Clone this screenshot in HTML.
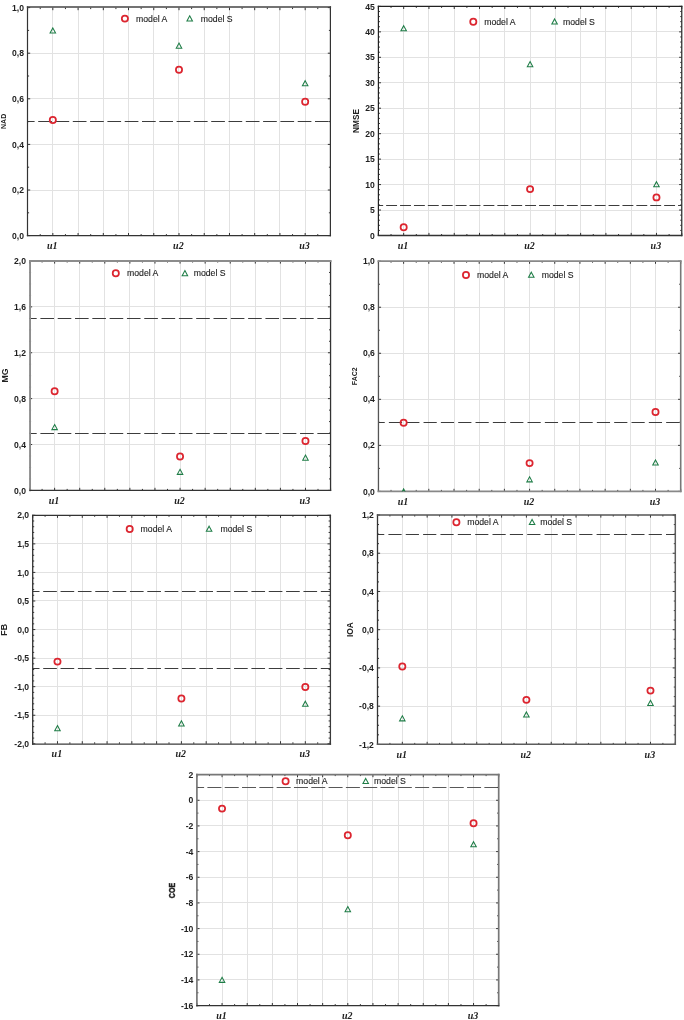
<!DOCTYPE html>
<html><head><meta charset="utf-8"><title>Model comparison charts</title>
<style>
html,body{margin:0;padding:0;background:#fff;}
body{width:684px;height:1020px;overflow:hidden;}
svg{display:block;will-change:transform;}
text{font-family:"Liberation Sans",sans-serif;}
.tl{font-size:8.6px;font-weight:bold;fill:#222;}
.lg{font-size:8.7px;fill:#222;stroke:#222;stroke-width:0.12px;}
.yl{font-weight:bold;fill:#222;}
.xl{font-family:"Liberation Serif",serif;font-style:italic;font-weight:bold;font-size:10.0px;fill:#222;}
</style></head>
<body>
<svg width="684" height="1020" viewBox="0 0 684 1020">
<rect width="684" height="1020" fill="#fff"/>
<g id="cNAD"><clipPath id="cpNAD"><rect x="27.60" y="7.60" width="302.80" height="228.00"/></clipPath>
<line x1="52.50" y1="7.60" x2="52.50" y2="235.60" stroke="#e2e2e2" stroke-width="1"/>
<line x1="78.50" y1="7.60" x2="78.50" y2="235.60" stroke="#e2e2e2" stroke-width="1"/>
<line x1="103.50" y1="7.60" x2="103.50" y2="235.60" stroke="#e2e2e2" stroke-width="1"/>
<line x1="128.50" y1="7.60" x2="128.50" y2="235.60" stroke="#e2e2e2" stroke-width="1"/>
<line x1="153.50" y1="7.60" x2="153.50" y2="235.60" stroke="#e2e2e2" stroke-width="1"/>
<line x1="178.50" y1="7.60" x2="178.50" y2="235.60" stroke="#e2e2e2" stroke-width="1"/>
<line x1="204.50" y1="7.60" x2="204.50" y2="235.60" stroke="#e2e2e2" stroke-width="1"/>
<line x1="229.50" y1="7.60" x2="229.50" y2="235.60" stroke="#e2e2e2" stroke-width="1"/>
<line x1="254.50" y1="7.60" x2="254.50" y2="235.60" stroke="#e2e2e2" stroke-width="1"/>
<line x1="279.50" y1="7.60" x2="279.50" y2="235.60" stroke="#e2e2e2" stroke-width="1"/>
<line x1="305.50" y1="7.60" x2="305.50" y2="235.60" stroke="#e2e2e2" stroke-width="1"/>
<line x1="27.60" y1="190.50" x2="330.40" y2="190.50" stroke="#e2e2e2" stroke-width="1"/>
<line x1="27.60" y1="144.50" x2="330.40" y2="144.50" stroke="#e2e2e2" stroke-width="1"/>
<line x1="27.60" y1="98.50" x2="330.40" y2="98.50" stroke="#e2e2e2" stroke-width="1"/>
<line x1="27.60" y1="53.50" x2="330.40" y2="53.50" stroke="#e2e2e2" stroke-width="1"/>
<line x1="27.60" y1="121.50" x2="330.40" y2="121.50" stroke="#3c3c3c" stroke-width="1.2" stroke-dasharray="13.7 3.6" stroke-dashoffset="6.70"/>
<path d="M27.60,235.60h2.6M330.40,235.60h-2.6M27.60,212.80h1.5M330.40,212.80h-1.5M27.60,190.00h2.6M330.40,190.00h-2.6M27.60,167.20h1.5M330.40,167.20h-1.5M27.60,144.40h2.6M330.40,144.40h-2.6M27.60,121.60h1.5M330.40,121.60h-1.5M27.60,98.80h2.6M330.40,98.80h-2.6M27.60,76.00h1.5M330.40,76.00h-1.5M27.60,53.20h2.6M330.40,53.20h-2.6M27.60,30.40h1.5M330.40,30.40h-1.5M27.60,7.60h2.6M330.40,7.60h-2.6M27.60,235.60v-2.6M27.60,7.60v2.6M40.22,235.60v-1.5M40.22,7.60v1.5M52.83,235.60v-2.6M52.83,7.60v2.6M65.45,235.60v-1.5M65.45,7.60v1.5M78.07,235.60v-2.6M78.07,7.60v2.6M90.68,235.60v-1.5M90.68,7.60v1.5M103.30,235.60v-2.6M103.30,7.60v2.6M115.92,235.60v-1.5M115.92,7.60v1.5M128.53,235.60v-2.6M128.53,7.60v2.6M141.15,235.60v-1.5M141.15,7.60v1.5M153.77,235.60v-2.6M153.77,7.60v2.6M166.38,235.60v-1.5M166.38,7.60v1.5M179.00,235.60v-2.6M179.00,7.60v2.6M191.62,235.60v-1.5M191.62,7.60v1.5M204.23,235.60v-2.6M204.23,7.60v2.6M216.85,235.60v-1.5M216.85,7.60v1.5M229.47,235.60v-2.6M229.47,7.60v2.6M242.08,235.60v-1.5M242.08,7.60v1.5M254.70,235.60v-2.6M254.70,7.60v2.6M267.32,235.60v-1.5M267.32,7.60v1.5M279.93,235.60v-2.6M279.93,7.60v2.6M292.55,235.60v-1.5M292.55,7.60v1.5M305.17,235.60v-2.6M305.17,7.60v2.6M317.78,235.60v-1.5M317.78,7.60v1.5M330.40,235.60v-2.6M330.40,7.60v2.6" stroke="#333" stroke-width="1" fill="none"/>
<line x1="27.50" y1="6.95" x2="27.50" y2="235.60" stroke="#333333" stroke-width="1.2" stroke-linecap="square"/>
<line x1="330.40" y1="6.95" x2="330.40" y2="235.60" stroke="#333333" stroke-width="1.2" stroke-linecap="square"/>
<line x1="27.50" y1="6.95" x2="330.40" y2="6.95" stroke="#444" stroke-width="1.4" stroke-linecap="square"/>
<line x1="27.50" y1="235.60" x2="330.40" y2="235.60" stroke="#333333" stroke-width="1.3" stroke-linecap="square"/>
<g clip-path="url(#cpNAD)"><path d="M52.83,27.95 L55.58,33.05 L50.08,33.05 Z" fill="none" stroke="#1f7d47" stroke-width="1.05" stroke-linejoin="miter"/><circle cx="52.83" cy="119.95" r="3.1" fill="none" stroke="#dc2630" stroke-width="1.75"/><path d="M179.00,43.05 L181.75,48.15 L176.25,48.15 Z" fill="none" stroke="#1f7d47" stroke-width="1.05" stroke-linejoin="miter"/><circle cx="179.00" cy="69.65" r="3.1" fill="none" stroke="#dc2630" stroke-width="1.75"/><path d="M305.17,80.70 L307.92,85.80 L302.42,85.80 Z" fill="none" stroke="#1f7d47" stroke-width="1.05" stroke-linejoin="miter"/><circle cx="305.17" cy="101.75" r="3.1" fill="none" stroke="#dc2630" stroke-width="1.75"/></g>
<circle cx="124.90" cy="18.60" r="3.1" fill="none" stroke="#dc2630" stroke-width="1.75"/>
<path d="M189.70,15.85 L192.45,20.95 L186.95,20.95 Z" fill="none" stroke="#1f7d47" stroke-width="1.05" stroke-linejoin="miter"/>
<text x="136.00" y="21.75" class="lg">model A</text>
<text x="200.80" y="21.75" class="lg">model S</text>
<text x="24.00" y="238.70" class="tl" text-anchor="end">0,0</text>
<text x="24.00" y="193.10" class="tl" text-anchor="end">0,2</text>
<text x="24.00" y="147.50" class="tl" text-anchor="end">0,4</text>
<text x="24.00" y="101.90" class="tl" text-anchor="end">0,6</text>
<text x="24.00" y="56.30" class="tl" text-anchor="end">0,8</text>
<text x="24.00" y="10.70" class="tl" text-anchor="end">1,0</text>
<text x="52.23" y="249.10" class="xl" text-anchor="middle">u1</text>
<text x="178.40" y="249.10" class="xl" text-anchor="middle">u2</text>
<text x="304.57" y="249.10" class="xl" text-anchor="middle">u3</text>
<text transform="translate(6.17,121.40) rotate(-90) scale(1,1.0)" text-anchor="middle" class="yl" style="font-size:7.0px;stroke:#222;stroke-width:0px">NAD</text></g>
<g id="cNMSE"><clipPath id="cpNMSE"><rect x="378.40" y="6.40" width="303.35" height="229.10"/></clipPath>
<line x1="403.50" y1="6.40" x2="403.50" y2="235.50" stroke="#e2e2e2" stroke-width="1"/>
<line x1="428.50" y1="6.40" x2="428.50" y2="235.50" stroke="#e2e2e2" stroke-width="1"/>
<line x1="454.50" y1="6.40" x2="454.50" y2="235.50" stroke="#e2e2e2" stroke-width="1"/>
<line x1="479.50" y1="6.40" x2="479.50" y2="235.50" stroke="#e2e2e2" stroke-width="1"/>
<line x1="504.50" y1="6.40" x2="504.50" y2="235.50" stroke="#e2e2e2" stroke-width="1"/>
<line x1="530.50" y1="6.40" x2="530.50" y2="235.50" stroke="#e2e2e2" stroke-width="1"/>
<line x1="555.50" y1="6.40" x2="555.50" y2="235.50" stroke="#e2e2e2" stroke-width="1"/>
<line x1="580.50" y1="6.40" x2="580.50" y2="235.50" stroke="#e2e2e2" stroke-width="1"/>
<line x1="605.50" y1="6.40" x2="605.50" y2="235.50" stroke="#e2e2e2" stroke-width="1"/>
<line x1="631.50" y1="6.40" x2="631.50" y2="235.50" stroke="#e2e2e2" stroke-width="1"/>
<line x1="656.50" y1="6.40" x2="656.50" y2="235.50" stroke="#e2e2e2" stroke-width="1"/>
<line x1="378.40" y1="210.50" x2="681.75" y2="210.50" stroke="#e2e2e2" stroke-width="1"/>
<line x1="378.40" y1="184.50" x2="681.75" y2="184.50" stroke="#e2e2e2" stroke-width="1"/>
<line x1="378.40" y1="159.50" x2="681.75" y2="159.50" stroke="#e2e2e2" stroke-width="1"/>
<line x1="378.40" y1="133.50" x2="681.75" y2="133.50" stroke="#e2e2e2" stroke-width="1"/>
<line x1="378.40" y1="108.50" x2="681.75" y2="108.50" stroke="#e2e2e2" stroke-width="1"/>
<line x1="378.40" y1="82.50" x2="681.75" y2="82.50" stroke="#e2e2e2" stroke-width="1"/>
<line x1="378.40" y1="57.50" x2="681.75" y2="57.50" stroke="#e2e2e2" stroke-width="1"/>
<line x1="378.40" y1="31.50" x2="681.75" y2="31.50" stroke="#e2e2e2" stroke-width="1"/>
<line x1="378.40" y1="205.50" x2="681.75" y2="205.50" stroke="#3c3c3c" stroke-width="1.2" stroke-dasharray="10.9 3.0" stroke-dashoffset="6.15"/>
<path d="M378.40,235.50h2.6M681.75,235.50h-2.6M378.40,230.41h1.5M681.75,230.41h-1.5M378.40,225.32h1.5M681.75,225.32h-1.5M378.40,220.23h1.5M681.75,220.23h-1.5M378.40,215.14h1.5M681.75,215.14h-1.5M378.40,210.04h2.6M681.75,210.04h-2.6M378.40,204.95h1.5M681.75,204.95h-1.5M378.40,199.86h1.5M681.75,199.86h-1.5M378.40,194.77h1.5M681.75,194.77h-1.5M378.40,189.68h1.5M681.75,189.68h-1.5M378.40,184.59h2.6M681.75,184.59h-2.6M378.40,179.50h1.5M681.75,179.50h-1.5M378.40,174.41h1.5M681.75,174.41h-1.5M378.40,169.32h1.5M681.75,169.32h-1.5M378.40,164.22h1.5M681.75,164.22h-1.5M378.40,159.13h2.6M681.75,159.13h-2.6M378.40,154.04h1.5M681.75,154.04h-1.5M378.40,148.95h1.5M681.75,148.95h-1.5M378.40,143.86h1.5M681.75,143.86h-1.5M378.40,138.77h1.5M681.75,138.77h-1.5M378.40,133.68h2.6M681.75,133.68h-2.6M378.40,128.59h1.5M681.75,128.59h-1.5M378.40,123.50h1.5M681.75,123.50h-1.5M378.40,118.40h1.5M681.75,118.40h-1.5M378.40,113.31h1.5M681.75,113.31h-1.5M378.40,108.22h2.6M681.75,108.22h-2.6M378.40,103.13h1.5M681.75,103.13h-1.5M378.40,98.04h1.5M681.75,98.04h-1.5M378.40,92.95h1.5M681.75,92.95h-1.5M378.40,87.86h1.5M681.75,87.86h-1.5M378.40,82.77h2.6M681.75,82.77h-2.6M378.40,77.68h1.5M681.75,77.68h-1.5M378.40,72.58h1.5M681.75,72.58h-1.5M378.40,67.49h1.5M681.75,67.49h-1.5M378.40,62.40h1.5M681.75,62.40h-1.5M378.40,57.31h2.6M681.75,57.31h-2.6M378.40,52.22h1.5M681.75,52.22h-1.5M378.40,47.13h1.5M681.75,47.13h-1.5M378.40,42.04h1.5M681.75,42.04h-1.5M378.40,36.95h1.5M681.75,36.95h-1.5M378.40,31.86h2.6M681.75,31.86h-2.6M378.40,26.76h1.5M681.75,26.76h-1.5M378.40,21.67h1.5M681.75,21.67h-1.5M378.40,16.58h1.5M681.75,16.58h-1.5M378.40,11.49h1.5M681.75,11.49h-1.5M378.40,6.40h2.6M681.75,6.40h-2.6M378.40,235.50v-2.6M378.40,6.40v2.6M391.04,235.50v-1.5M391.04,6.40v1.5M403.68,235.50v-2.6M403.68,6.40v2.6M416.32,235.50v-1.5M416.32,6.40v1.5M428.96,235.50v-2.6M428.96,6.40v2.6M441.60,235.50v-1.5M441.60,6.40v1.5M454.24,235.50v-2.6M454.24,6.40v2.6M466.88,235.50v-1.5M466.88,6.40v1.5M479.52,235.50v-2.6M479.52,6.40v2.6M492.16,235.50v-1.5M492.16,6.40v1.5M504.80,235.50v-2.6M504.80,6.40v2.6M517.44,235.50v-1.5M517.44,6.40v1.5M530.08,235.50v-2.6M530.08,6.40v2.6M542.71,235.50v-1.5M542.71,6.40v1.5M555.35,235.50v-2.6M555.35,6.40v2.6M567.99,235.50v-1.5M567.99,6.40v1.5M580.63,235.50v-2.6M580.63,6.40v2.6M593.27,235.50v-1.5M593.27,6.40v1.5M605.91,235.50v-2.6M605.91,6.40v2.6M618.55,235.50v-1.5M618.55,6.40v1.5M631.19,235.50v-2.6M631.19,6.40v2.6M643.83,235.50v-1.5M643.83,6.40v1.5M656.47,235.50v-2.6M656.47,6.40v2.6M669.11,235.50v-1.5M669.11,6.40v1.5M681.75,235.50v-2.6M681.75,6.40v2.6" stroke="#333" stroke-width="1" fill="none"/>
<line x1="378.40" y1="6.40" x2="378.40" y2="235.50" stroke="#222" stroke-width="1.2" stroke-linecap="square"/>
<line x1="681.75" y1="6.40" x2="681.75" y2="235.50" stroke="#333" stroke-width="1.3" stroke-linecap="square"/>
<line x1="378.40" y1="6.40" x2="681.75" y2="6.40" stroke="#222" stroke-width="1.2" stroke-linecap="square"/>
<line x1="378.40" y1="235.50" x2="681.75" y2="235.50" stroke="#333" stroke-width="1.3" stroke-linecap="square"/>
<g clip-path="url(#cpNMSE)"><path d="M403.68,25.70 L406.43,30.80 L400.93,30.80 Z" fill="none" stroke="#1f7d47" stroke-width="1.05" stroke-linejoin="miter"/><circle cx="403.68" cy="227.30" r="3.1" fill="none" stroke="#dc2630" stroke-width="1.75"/><path d="M530.08,61.60 L532.83,66.70 L527.33,66.70 Z" fill="none" stroke="#1f7d47" stroke-width="1.05" stroke-linejoin="miter"/><circle cx="530.08" cy="189.10" r="3.1" fill="none" stroke="#dc2630" stroke-width="1.75"/><path d="M656.47,181.70 L659.22,186.80 L653.72,186.80 Z" fill="none" stroke="#1f7d47" stroke-width="1.05" stroke-linejoin="miter"/><circle cx="656.47" cy="197.40" r="3.1" fill="none" stroke="#dc2630" stroke-width="1.75"/></g>
<circle cx="473.30" cy="21.70" r="3.1" fill="none" stroke="#dc2630" stroke-width="1.75"/>
<path d="M554.60,18.95 L557.35,24.05 L551.85,24.05 Z" fill="none" stroke="#1f7d47" stroke-width="1.05" stroke-linejoin="miter"/>
<text x="484.20" y="24.85" class="lg">model A</text>
<text x="563.00" y="24.85" class="lg">model S</text>
<text x="374.80" y="238.60" class="tl" text-anchor="end">0</text>
<text x="374.80" y="213.14" class="tl" text-anchor="end">5</text>
<text x="374.80" y="187.69" class="tl" text-anchor="end">10</text>
<text x="374.80" y="162.23" class="tl" text-anchor="end">15</text>
<text x="374.80" y="136.78" class="tl" text-anchor="end">20</text>
<text x="374.80" y="111.32" class="tl" text-anchor="end">25</text>
<text x="374.80" y="85.87" class="tl" text-anchor="end">30</text>
<text x="374.80" y="60.41" class="tl" text-anchor="end">35</text>
<text x="374.80" y="34.96" class="tl" text-anchor="end">40</text>
<text x="374.80" y="9.50" class="tl" text-anchor="end">45</text>
<text x="403.08" y="249.00" class="xl" text-anchor="middle">u1</text>
<text x="529.48" y="249.00" class="xl" text-anchor="middle">u2</text>
<text x="655.87" y="249.00" class="xl" text-anchor="middle">u3</text>
<text transform="translate(359.09,120.90) rotate(-90) scale(1,1.0)" text-anchor="middle" class="yl" style="font-size:8.3px;stroke:#222;stroke-width:0px">NMSE</text></g>
<g id="cMG"><clipPath id="cpMG"><rect x="29.55" y="261.00" width="301.00" height="229.40"/></clipPath>
<line x1="54.50" y1="261.00" x2="54.50" y2="490.40" stroke="#e2e2e2" stroke-width="1"/>
<line x1="79.50" y1="261.00" x2="79.50" y2="490.40" stroke="#e2e2e2" stroke-width="1"/>
<line x1="104.50" y1="261.00" x2="104.50" y2="490.40" stroke="#e2e2e2" stroke-width="1"/>
<line x1="129.50" y1="261.00" x2="129.50" y2="490.40" stroke="#e2e2e2" stroke-width="1"/>
<line x1="154.50" y1="261.00" x2="154.50" y2="490.40" stroke="#e2e2e2" stroke-width="1"/>
<line x1="180.50" y1="261.00" x2="180.50" y2="490.40" stroke="#e2e2e2" stroke-width="1"/>
<line x1="205.50" y1="261.00" x2="205.50" y2="490.40" stroke="#e2e2e2" stroke-width="1"/>
<line x1="230.50" y1="261.00" x2="230.50" y2="490.40" stroke="#e2e2e2" stroke-width="1"/>
<line x1="255.50" y1="261.00" x2="255.50" y2="490.40" stroke="#e2e2e2" stroke-width="1"/>
<line x1="280.50" y1="261.00" x2="280.50" y2="490.40" stroke="#e2e2e2" stroke-width="1"/>
<line x1="305.50" y1="261.00" x2="305.50" y2="490.40" stroke="#e2e2e2" stroke-width="1"/>
<line x1="29.55" y1="444.50" x2="330.55" y2="444.50" stroke="#e2e2e2" stroke-width="1"/>
<line x1="29.55" y1="398.50" x2="330.55" y2="398.50" stroke="#e2e2e2" stroke-width="1"/>
<line x1="29.55" y1="352.50" x2="330.55" y2="352.50" stroke="#e2e2e2" stroke-width="1"/>
<line x1="29.55" y1="306.50" x2="330.55" y2="306.50" stroke="#e2e2e2" stroke-width="1"/>
<line x1="29.55" y1="318.50" x2="330.55" y2="318.50" stroke="#3c3c3c" stroke-width="1.2" stroke-dasharray="13.6 3.71" stroke-dashoffset="6.46"/>
<line x1="29.55" y1="433.50" x2="330.55" y2="433.50" stroke="#3c3c3c" stroke-width="1.2" stroke-dasharray="13.6 3.71" stroke-dashoffset="6.46"/>
<path d="M29.55,490.40h2.6M330.55,490.40h-2.6M29.55,478.93h1.5M330.55,478.93h-1.5M29.55,467.46h1.5M330.55,467.46h-1.5M29.55,455.99h1.5M330.55,455.99h-1.5M29.55,444.52h2.6M330.55,444.52h-2.6M29.55,433.05h1.5M330.55,433.05h-1.5M29.55,421.58h1.5M330.55,421.58h-1.5M29.55,410.11h1.5M330.55,410.11h-1.5M29.55,398.64h2.6M330.55,398.64h-2.6M29.55,387.17h1.5M330.55,387.17h-1.5M29.55,375.70h1.5M330.55,375.70h-1.5M29.55,364.23h1.5M330.55,364.23h-1.5M29.55,352.76h2.6M330.55,352.76h-2.6M29.55,341.29h1.5M330.55,341.29h-1.5M29.55,329.82h1.5M330.55,329.82h-1.5M29.55,318.35h1.5M330.55,318.35h-1.5M29.55,306.88h2.6M330.55,306.88h-2.6M29.55,295.41h1.5M330.55,295.41h-1.5M29.55,283.94h1.5M330.55,283.94h-1.5M29.55,272.47h1.5M330.55,272.47h-1.5M29.55,261.00h2.6M330.55,261.00h-2.6M29.55,490.40v-2.6M29.55,261.00v2.6M42.09,490.40v-1.5M42.09,261.00v1.5M54.63,490.40v-2.6M54.63,261.00v2.6M67.17,490.40v-1.5M67.17,261.00v1.5M79.72,490.40v-2.6M79.72,261.00v2.6M92.26,490.40v-1.5M92.26,261.00v1.5M104.80,490.40v-2.6M104.80,261.00v2.6M117.34,490.40v-1.5M117.34,261.00v1.5M129.88,490.40v-2.6M129.88,261.00v2.6M142.43,490.40v-1.5M142.43,261.00v1.5M154.97,490.40v-2.6M154.97,261.00v2.6M167.51,490.40v-1.5M167.51,261.00v1.5M180.05,490.40v-2.6M180.05,261.00v2.6M192.59,490.40v-1.5M192.59,261.00v1.5M205.13,490.40v-2.6M205.13,261.00v2.6M217.68,490.40v-1.5M217.68,261.00v1.5M230.22,490.40v-2.6M230.22,261.00v2.6M242.76,490.40v-1.5M242.76,261.00v1.5M255.30,490.40v-2.6M255.30,261.00v2.6M267.84,490.40v-1.5M267.84,261.00v1.5M280.38,490.40v-2.6M280.38,261.00v2.6M292.93,490.40v-1.5M292.93,261.00v1.5M305.47,490.40v-2.6M305.47,261.00v2.6M318.01,490.40v-1.5M318.01,261.00v1.5M330.55,490.40v-2.6M330.55,261.00v2.6" stroke="#333" stroke-width="1" fill="none"/>
<line x1="30.05" y1="261.00" x2="30.05" y2="490.40" stroke="#8c8c8c" stroke-width="1.9" stroke-linecap="square"/>
<line x1="330.55" y1="261.00" x2="330.55" y2="490.40" stroke="#333333" stroke-width="1.3" stroke-linecap="square"/>
<line x1="30.05" y1="261.00" x2="330.55" y2="261.00" stroke="#8c8c8c" stroke-width="1.9" stroke-linecap="square"/>
<line x1="30.05" y1="490.40" x2="330.55" y2="490.40" stroke="#333333" stroke-width="1.3" stroke-linecap="square"/>
<g clip-path="url(#cpMG)"><path d="M54.63,424.50 L57.38,429.60 L51.88,429.60 Z" fill="none" stroke="#1f7d47" stroke-width="1.05" stroke-linejoin="miter"/><circle cx="54.63" cy="391.30" r="3.1" fill="none" stroke="#dc2630" stroke-width="1.75"/><path d="M180.05,469.25 L182.80,474.35 L177.30,474.35 Z" fill="none" stroke="#1f7d47" stroke-width="1.05" stroke-linejoin="miter"/><circle cx="180.05" cy="456.45" r="3.1" fill="none" stroke="#dc2630" stroke-width="1.75"/><path d="M305.47,455.05 L308.22,460.15 L302.72,460.15 Z" fill="none" stroke="#1f7d47" stroke-width="1.05" stroke-linejoin="miter"/><circle cx="305.47" cy="440.95" r="3.1" fill="none" stroke="#dc2630" stroke-width="1.75"/></g>
<circle cx="115.80" cy="273.30" r="3.1" fill="none" stroke="#dc2630" stroke-width="1.75"/>
<path d="M184.90,270.55 L187.65,275.65 L182.15,275.65 Z" fill="none" stroke="#1f7d47" stroke-width="1.05" stroke-linejoin="miter"/>
<text x="127.00" y="276.45" class="lg">model A</text>
<text x="193.70" y="276.45" class="lg">model S</text>
<text x="25.95" y="493.50" class="tl" text-anchor="end">0,0</text>
<text x="25.95" y="447.62" class="tl" text-anchor="end">0,4</text>
<text x="25.95" y="401.74" class="tl" text-anchor="end">0,8</text>
<text x="25.95" y="355.86" class="tl" text-anchor="end">1,2</text>
<text x="25.95" y="309.98" class="tl" text-anchor="end">1,6</text>
<text x="25.95" y="264.10" class="tl" text-anchor="end">2,0</text>
<text x="54.03" y="503.90" class="xl" text-anchor="middle">u1</text>
<text x="179.45" y="503.90" class="xl" text-anchor="middle">u2</text>
<text x="304.87" y="503.90" class="xl" text-anchor="middle">u3</text>
<text transform="translate(7.57,375.40) rotate(-90) scale(1,1.0)" text-anchor="middle" class="yl" style="font-size:8.8px;stroke:#222;stroke-width:0px">MG</text></g>
<g id="cFAC2"><clipPath id="cpFAC2"><rect x="378.45" y="261.20" width="302.25" height="230.20"/></clipPath>
<line x1="403.50" y1="261.20" x2="403.50" y2="491.40" stroke="#e2e2e2" stroke-width="1"/>
<line x1="428.50" y1="261.20" x2="428.50" y2="491.40" stroke="#e2e2e2" stroke-width="1"/>
<line x1="454.50" y1="261.20" x2="454.50" y2="491.40" stroke="#e2e2e2" stroke-width="1"/>
<line x1="479.50" y1="261.20" x2="479.50" y2="491.40" stroke="#e2e2e2" stroke-width="1"/>
<line x1="504.50" y1="261.20" x2="504.50" y2="491.40" stroke="#e2e2e2" stroke-width="1"/>
<line x1="529.50" y1="261.20" x2="529.50" y2="491.40" stroke="#e2e2e2" stroke-width="1"/>
<line x1="554.50" y1="261.20" x2="554.50" y2="491.40" stroke="#e2e2e2" stroke-width="1"/>
<line x1="579.50" y1="261.20" x2="579.50" y2="491.40" stroke="#e2e2e2" stroke-width="1"/>
<line x1="605.50" y1="261.20" x2="605.50" y2="491.40" stroke="#e2e2e2" stroke-width="1"/>
<line x1="630.50" y1="261.20" x2="630.50" y2="491.40" stroke="#e2e2e2" stroke-width="1"/>
<line x1="655.50" y1="261.20" x2="655.50" y2="491.40" stroke="#e2e2e2" stroke-width="1"/>
<line x1="378.45" y1="445.50" x2="680.70" y2="445.50" stroke="#e2e2e2" stroke-width="1"/>
<line x1="378.45" y1="399.50" x2="680.70" y2="399.50" stroke="#e2e2e2" stroke-width="1"/>
<line x1="378.45" y1="353.50" x2="680.70" y2="353.50" stroke="#e2e2e2" stroke-width="1"/>
<line x1="378.45" y1="307.50" x2="680.70" y2="307.50" stroke="#e2e2e2" stroke-width="1"/>
<line x1="378.45" y1="422.50" x2="680.70" y2="422.50" stroke="#3c3c3c" stroke-width="1.2" stroke-dasharray="13.2 4.13" stroke-dashoffset="6.90"/>
<path d="M378.45,491.40h2.6M680.70,491.40h-2.6M378.45,468.38h1.5M680.70,468.38h-1.5M378.45,445.36h2.6M680.70,445.36h-2.6M378.45,422.34h1.5M680.70,422.34h-1.5M378.45,399.32h2.6M680.70,399.32h-2.6M378.45,376.30h1.5M680.70,376.30h-1.5M378.45,353.28h2.6M680.70,353.28h-2.6M378.45,330.26h1.5M680.70,330.26h-1.5M378.45,307.24h2.6M680.70,307.24h-2.6M378.45,284.22h1.5M680.70,284.22h-1.5M378.45,261.20h2.6M680.70,261.20h-2.6M378.45,491.40v-2.6M378.45,261.20v2.6M391.04,491.40v-1.5M391.04,261.20v1.5M403.64,491.40v-2.6M403.64,261.20v2.6M416.23,491.40v-1.5M416.23,261.20v1.5M428.82,491.40v-2.6M428.82,261.20v2.6M441.42,491.40v-1.5M441.42,261.20v1.5M454.01,491.40v-2.6M454.01,261.20v2.6M466.61,491.40v-1.5M466.61,261.20v1.5M479.20,491.40v-2.6M479.20,261.20v2.6M491.79,491.40v-1.5M491.79,261.20v1.5M504.39,491.40v-2.6M504.39,261.20v2.6M516.98,491.40v-1.5M516.98,261.20v1.5M529.58,491.40v-2.6M529.58,261.20v2.6M542.17,491.40v-1.5M542.17,261.20v1.5M554.76,491.40v-2.6M554.76,261.20v2.6M567.36,491.40v-1.5M567.36,261.20v1.5M579.95,491.40v-2.6M579.95,261.20v2.6M592.54,491.40v-1.5M592.54,261.20v1.5M605.14,491.40v-2.6M605.14,261.20v2.6M617.73,491.40v-1.5M617.73,261.20v1.5M630.33,491.40v-2.6M630.33,261.20v2.6M642.92,491.40v-1.5M642.92,261.20v1.5M655.51,491.40v-2.6M655.51,261.20v2.6M668.11,491.40v-1.5M668.11,261.20v1.5M680.70,491.40v-2.6M680.70,261.20v2.6" stroke="#333" stroke-width="1" fill="none"/>
<line x1="378.45" y1="261.20" x2="378.45" y2="491.40" stroke="#555" stroke-width="1.3" stroke-linecap="square"/>
<line x1="680.70" y1="261.20" x2="680.70" y2="491.40" stroke="#777" stroke-width="1.6" stroke-linecap="square"/>
<line x1="378.45" y1="261.20" x2="680.70" y2="261.20" stroke="#888" stroke-width="1.8" stroke-linecap="square"/>
<line x1="378.45" y1="491.40" x2="680.70" y2="491.40" stroke="#888" stroke-width="1.8" stroke-linecap="square"/>
<g clip-path="url(#cpFAC2)"><path d="M403.64,488.95 L406.39,494.05 L400.89,494.05 Z" fill="none" stroke="#1f7d47" stroke-width="1.05" stroke-linejoin="miter"/><circle cx="403.64" cy="422.80" r="3.1" fill="none" stroke="#dc2630" stroke-width="1.75"/><path d="M529.58,476.75 L532.33,481.85 L526.83,481.85 Z" fill="none" stroke="#1f7d47" stroke-width="1.05" stroke-linejoin="miter"/><circle cx="529.58" cy="463.10" r="3.1" fill="none" stroke="#dc2630" stroke-width="1.75"/><path d="M655.51,459.95 L658.26,465.05 L652.76,465.05 Z" fill="none" stroke="#1f7d47" stroke-width="1.05" stroke-linejoin="miter"/><circle cx="655.51" cy="412.00" r="3.1" fill="none" stroke="#dc2630" stroke-width="1.75"/></g>
<circle cx="466.00" cy="274.90" r="3.1" fill="none" stroke="#dc2630" stroke-width="1.75"/>
<path d="M531.30,272.15 L534.05,277.25 L528.55,277.25 Z" fill="none" stroke="#1f7d47" stroke-width="1.05" stroke-linejoin="miter"/>
<text x="477.00" y="278.05" class="lg">model A</text>
<text x="541.70" y="278.05" class="lg">model S</text>
<text x="374.85" y="494.50" class="tl" text-anchor="end">0,0</text>
<text x="374.85" y="448.46" class="tl" text-anchor="end">0,2</text>
<text x="374.85" y="402.42" class="tl" text-anchor="end">0,4</text>
<text x="374.85" y="356.38" class="tl" text-anchor="end">0,6</text>
<text x="374.85" y="310.34" class="tl" text-anchor="end">0,8</text>
<text x="374.85" y="264.30" class="tl" text-anchor="end">1,0</text>
<text x="403.04" y="504.90" class="xl" text-anchor="middle">u1</text>
<text x="528.98" y="504.90" class="xl" text-anchor="middle">u2</text>
<text x="654.91" y="504.90" class="xl" text-anchor="middle">u3</text>
<text transform="translate(356.77,376.20) rotate(-90) scale(1,1.0)" text-anchor="middle" class="yl" style="font-size:7.0px;stroke:#222;stroke-width:0px">FAC2</text></g>
<g id="cFB"><clipPath id="cpFB"><rect x="32.70" y="515.30" width="297.40" height="228.50"/></clipPath>
<line x1="57.50" y1="515.30" x2="57.50" y2="743.80" stroke="#e2e2e2" stroke-width="1"/>
<line x1="82.50" y1="515.30" x2="82.50" y2="743.80" stroke="#e2e2e2" stroke-width="1"/>
<line x1="107.50" y1="515.30" x2="107.50" y2="743.80" stroke="#e2e2e2" stroke-width="1"/>
<line x1="131.50" y1="515.30" x2="131.50" y2="743.80" stroke="#e2e2e2" stroke-width="1"/>
<line x1="156.50" y1="515.30" x2="156.50" y2="743.80" stroke="#e2e2e2" stroke-width="1"/>
<line x1="181.50" y1="515.30" x2="181.50" y2="743.80" stroke="#e2e2e2" stroke-width="1"/>
<line x1="206.50" y1="515.30" x2="206.50" y2="743.80" stroke="#e2e2e2" stroke-width="1"/>
<line x1="230.50" y1="515.30" x2="230.50" y2="743.80" stroke="#e2e2e2" stroke-width="1"/>
<line x1="255.50" y1="515.30" x2="255.50" y2="743.80" stroke="#e2e2e2" stroke-width="1"/>
<line x1="280.50" y1="515.30" x2="280.50" y2="743.80" stroke="#e2e2e2" stroke-width="1"/>
<line x1="305.50" y1="515.30" x2="305.50" y2="743.80" stroke="#e2e2e2" stroke-width="1"/>
<line x1="32.70" y1="715.50" x2="330.10" y2="715.50" stroke="#e2e2e2" stroke-width="1"/>
<line x1="32.70" y1="686.50" x2="330.10" y2="686.50" stroke="#e2e2e2" stroke-width="1"/>
<line x1="32.70" y1="658.50" x2="330.10" y2="658.50" stroke="#e2e2e2" stroke-width="1"/>
<line x1="32.70" y1="629.50" x2="330.10" y2="629.50" stroke="#e2e2e2" stroke-width="1"/>
<line x1="32.70" y1="600.50" x2="330.10" y2="600.50" stroke="#e2e2e2" stroke-width="1"/>
<line x1="32.70" y1="572.50" x2="330.10" y2="572.50" stroke="#e2e2e2" stroke-width="1"/>
<line x1="32.70" y1="543.50" x2="330.10" y2="543.50" stroke="#e2e2e2" stroke-width="1"/>
<line x1="32.70" y1="591.50" x2="330.10" y2="591.50" stroke="#3c3c3c" stroke-width="1.2" stroke-dasharray="13.65 3.7" stroke-dashoffset="6.85"/>
<line x1="32.70" y1="668.50" x2="330.10" y2="668.50" stroke="#3c3c3c" stroke-width="1.2" stroke-dasharray="13.65 3.7" stroke-dashoffset="6.85"/>
<path d="M32.70,743.80h2.6M330.10,743.80h-2.6M32.70,738.09h1.5M330.10,738.09h-1.5M32.70,732.38h1.5M330.10,732.38h-1.5M32.70,726.66h1.5M330.10,726.66h-1.5M32.70,720.95h1.5M330.10,720.95h-1.5M32.70,715.24h2.6M330.10,715.24h-2.6M32.70,709.52h1.5M330.10,709.52h-1.5M32.70,703.81h1.5M330.10,703.81h-1.5M32.70,698.10h1.5M330.10,698.10h-1.5M32.70,692.39h1.5M330.10,692.39h-1.5M32.70,686.67h2.6M330.10,686.67h-2.6M32.70,680.96h1.5M330.10,680.96h-1.5M32.70,675.25h1.5M330.10,675.25h-1.5M32.70,669.54h1.5M330.10,669.54h-1.5M32.70,663.82h1.5M330.10,663.82h-1.5M32.70,658.11h2.6M330.10,658.11h-2.6M32.70,652.40h1.5M330.10,652.40h-1.5M32.70,646.69h1.5M330.10,646.69h-1.5M32.70,640.97h1.5M330.10,640.97h-1.5M32.70,635.26h1.5M330.10,635.26h-1.5M32.70,629.55h2.6M330.10,629.55h-2.6M32.70,623.84h1.5M330.10,623.84h-1.5M32.70,618.12h1.5M330.10,618.12h-1.5M32.70,612.41h1.5M330.10,612.41h-1.5M32.70,606.70h1.5M330.10,606.70h-1.5M32.70,600.99h2.6M330.10,600.99h-2.6M32.70,595.27h1.5M330.10,595.27h-1.5M32.70,589.56h1.5M330.10,589.56h-1.5M32.70,583.85h1.5M330.10,583.85h-1.5M32.70,578.14h1.5M330.10,578.14h-1.5M32.70,572.42h2.6M330.10,572.42h-2.6M32.70,566.71h1.5M330.10,566.71h-1.5M32.70,561.00h1.5M330.10,561.00h-1.5M32.70,555.29h1.5M330.10,555.29h-1.5M32.70,549.57h1.5M330.10,549.57h-1.5M32.70,543.86h2.6M330.10,543.86h-2.6M32.70,538.15h1.5M330.10,538.15h-1.5M32.70,532.44h1.5M330.10,532.44h-1.5M32.70,526.72h1.5M330.10,526.72h-1.5M32.70,521.01h1.5M330.10,521.01h-1.5M32.70,515.30h2.6M330.10,515.30h-2.6M32.70,743.80v-2.6M32.70,515.30v2.6M45.09,743.80v-1.5M45.09,515.30v1.5M57.48,743.80v-2.6M57.48,515.30v2.6M69.88,743.80v-1.5M69.88,515.30v1.5M82.27,743.80v-2.6M82.27,515.30v2.6M94.66,743.80v-1.5M94.66,515.30v1.5M107.05,743.80v-2.6M107.05,515.30v2.6M119.44,743.80v-1.5M119.44,515.30v1.5M131.83,743.80v-2.6M131.83,515.30v2.6M144.23,743.80v-1.5M144.23,515.30v1.5M156.62,743.80v-2.6M156.62,515.30v2.6M169.01,743.80v-1.5M169.01,515.30v1.5M181.40,743.80v-2.6M181.40,515.30v2.6M193.79,743.80v-1.5M193.79,515.30v1.5M206.18,743.80v-2.6M206.18,515.30v2.6M218.57,743.80v-1.5M218.57,515.30v1.5M230.97,743.80v-2.6M230.97,515.30v2.6M243.36,743.80v-1.5M243.36,515.30v1.5M255.75,743.80v-2.6M255.75,515.30v2.6M268.14,743.80v-1.5M268.14,515.30v1.5M280.53,743.80v-2.6M280.53,515.30v2.6M292.93,743.80v-1.5M292.93,515.30v1.5M305.32,743.80v-2.6M305.32,515.30v2.6M317.71,743.80v-1.5M317.71,515.30v1.5M330.10,743.80v-2.6M330.10,515.30v2.6" stroke="#333" stroke-width="1" fill="none"/>
<line x1="32.70" y1="515.30" x2="32.70" y2="744.10" stroke="#333333" stroke-width="1.3" stroke-linecap="square"/>
<line x1="330.40" y1="515.30" x2="330.40" y2="744.10" stroke="#3a3a3a" stroke-width="1.3" stroke-linecap="square"/>
<line x1="32.70" y1="515.30" x2="330.40" y2="515.30" stroke="#333333" stroke-width="1.3" stroke-linecap="square"/>
<line x1="32.70" y1="744.10" x2="330.40" y2="744.10" stroke="#3a3a3a" stroke-width="1.4" stroke-linecap="square"/>
<g clip-path="url(#cpFB)"><path d="M57.48,725.55 L60.23,730.65 L54.73,730.65 Z" fill="none" stroke="#1f7d47" stroke-width="1.05" stroke-linejoin="miter"/><circle cx="57.48" cy="661.60" r="3.1" fill="none" stroke="#dc2630" stroke-width="1.75"/><path d="M181.40,720.85 L184.15,725.95 L178.65,725.95 Z" fill="none" stroke="#1f7d47" stroke-width="1.05" stroke-linejoin="miter"/><circle cx="181.40" cy="698.50" r="3.1" fill="none" stroke="#dc2630" stroke-width="1.75"/><path d="M305.32,701.15 L308.07,706.25 L302.57,706.25 Z" fill="none" stroke="#1f7d47" stroke-width="1.05" stroke-linejoin="miter"/><circle cx="305.32" cy="687.05" r="3.1" fill="none" stroke="#dc2630" stroke-width="1.75"/></g>
<circle cx="129.70" cy="528.90" r="3.1" fill="none" stroke="#dc2630" stroke-width="1.75"/>
<path d="M209.10,526.15 L211.85,531.25 L206.35,531.25 Z" fill="none" stroke="#1f7d47" stroke-width="1.05" stroke-linejoin="miter"/>
<text x="140.60" y="532.05" class="lg">model A</text>
<text x="220.40" y="532.05" class="lg">model S</text>
<text x="29.10" y="746.90" class="tl" text-anchor="end">-2,0</text>
<text x="29.10" y="718.34" class="tl" text-anchor="end">-1,5</text>
<text x="29.10" y="689.77" class="tl" text-anchor="end">-1,0</text>
<text x="29.10" y="661.21" class="tl" text-anchor="end">-0,5</text>
<text x="29.10" y="632.65" class="tl" text-anchor="end">0,0</text>
<text x="29.10" y="604.09" class="tl" text-anchor="end">0,5</text>
<text x="29.10" y="575.52" class="tl" text-anchor="end">1,0</text>
<text x="29.10" y="546.96" class="tl" text-anchor="end">1,5</text>
<text x="29.10" y="518.40" class="tl" text-anchor="end">2,0</text>
<text x="56.88" y="757.30" class="xl" text-anchor="middle">u1</text>
<text x="180.80" y="757.30" class="xl" text-anchor="middle">u2</text>
<text x="304.72" y="757.30" class="xl" text-anchor="middle">u3</text>
<text transform="translate(7.32,629.80) rotate(-90) scale(1,1.0)" text-anchor="middle" class="yl" style="font-size:8.8px;stroke:#222;stroke-width:0px">FB</text></g>
<g id="cIOA"><clipPath id="cpIOA"><rect x="377.50" y="515.00" width="297.80" height="229.40"/></clipPath>
<line x1="402.50" y1="515.00" x2="402.50" y2="744.40" stroke="#e2e2e2" stroke-width="1"/>
<line x1="427.50" y1="515.00" x2="427.50" y2="744.40" stroke="#e2e2e2" stroke-width="1"/>
<line x1="451.50" y1="515.00" x2="451.50" y2="744.40" stroke="#e2e2e2" stroke-width="1"/>
<line x1="476.50" y1="515.00" x2="476.50" y2="744.40" stroke="#e2e2e2" stroke-width="1"/>
<line x1="501.50" y1="515.00" x2="501.50" y2="744.40" stroke="#e2e2e2" stroke-width="1"/>
<line x1="526.50" y1="515.00" x2="526.50" y2="744.40" stroke="#e2e2e2" stroke-width="1"/>
<line x1="551.50" y1="515.00" x2="551.50" y2="744.40" stroke="#e2e2e2" stroke-width="1"/>
<line x1="576.50" y1="515.00" x2="576.50" y2="744.40" stroke="#e2e2e2" stroke-width="1"/>
<line x1="600.50" y1="515.00" x2="600.50" y2="744.40" stroke="#e2e2e2" stroke-width="1"/>
<line x1="625.50" y1="515.00" x2="625.50" y2="744.40" stroke="#e2e2e2" stroke-width="1"/>
<line x1="650.50" y1="515.00" x2="650.50" y2="744.40" stroke="#e2e2e2" stroke-width="1"/>
<line x1="377.50" y1="706.50" x2="675.30" y2="706.50" stroke="#e2e2e2" stroke-width="1"/>
<line x1="377.50" y1="667.50" x2="675.30" y2="667.50" stroke="#e2e2e2" stroke-width="1"/>
<line x1="377.50" y1="629.50" x2="675.30" y2="629.50" stroke="#e2e2e2" stroke-width="1"/>
<line x1="377.50" y1="591.50" x2="675.30" y2="591.50" stroke="#e2e2e2" stroke-width="1"/>
<line x1="377.50" y1="553.50" x2="675.30" y2="553.50" stroke="#e2e2e2" stroke-width="1"/>
<line x1="377.50" y1="534.50" x2="675.30" y2="534.50" stroke="#3c3c3c" stroke-width="1.2" stroke-dasharray="13.2 4.15" stroke-dashoffset="6.45"/>
<path d="M377.50,744.40h2.6M675.30,744.40h-2.6M377.50,734.84h1.5M675.30,734.84h-1.5M377.50,725.28h1.5M675.30,725.28h-1.5M377.50,715.72h1.5M675.30,715.72h-1.5M377.50,706.17h2.6M675.30,706.17h-2.6M377.50,696.61h1.5M675.30,696.61h-1.5M377.50,687.05h1.5M675.30,687.05h-1.5M377.50,677.49h1.5M675.30,677.49h-1.5M377.50,667.93h2.6M675.30,667.93h-2.6M377.50,658.38h1.5M675.30,658.38h-1.5M377.50,648.82h1.5M675.30,648.82h-1.5M377.50,639.26h1.5M675.30,639.26h-1.5M377.50,629.70h2.6M675.30,629.70h-2.6M377.50,620.14h1.5M675.30,620.14h-1.5M377.50,610.58h1.5M675.30,610.58h-1.5M377.50,601.02h1.5M675.30,601.02h-1.5M377.50,591.47h2.6M675.30,591.47h-2.6M377.50,581.91h1.5M675.30,581.91h-1.5M377.50,572.35h1.5M675.30,572.35h-1.5M377.50,562.79h1.5M675.30,562.79h-1.5M377.50,553.23h2.6M675.30,553.23h-2.6M377.50,543.67h1.5M675.30,543.67h-1.5M377.50,534.12h1.5M675.30,534.12h-1.5M377.50,524.56h1.5M675.30,524.56h-1.5M377.50,515.00h2.6M675.30,515.00h-2.6M377.50,744.40v-2.6M377.50,515.00v2.6M389.91,744.40v-1.5M389.91,515.00v1.5M402.32,744.40v-2.6M402.32,515.00v2.6M414.73,744.40v-1.5M414.73,515.00v1.5M427.13,744.40v-2.6M427.13,515.00v2.6M439.54,744.40v-1.5M439.54,515.00v1.5M451.95,744.40v-2.6M451.95,515.00v2.6M464.36,744.40v-1.5M464.36,515.00v1.5M476.77,744.40v-2.6M476.77,515.00v2.6M489.17,744.40v-1.5M489.17,515.00v1.5M501.58,744.40v-2.6M501.58,515.00v2.6M513.99,744.40v-1.5M513.99,515.00v1.5M526.40,744.40v-2.6M526.40,515.00v2.6M538.81,744.40v-1.5M538.81,515.00v1.5M551.22,744.40v-2.6M551.22,515.00v2.6M563.62,744.40v-1.5M563.62,515.00v1.5M576.03,744.40v-2.6M576.03,515.00v2.6M588.44,744.40v-1.5M588.44,515.00v1.5M600.85,744.40v-2.6M600.85,515.00v2.6M613.26,744.40v-1.5M613.26,515.00v1.5M625.67,744.40v-2.6M625.67,515.00v2.6M638.07,744.40v-1.5M638.07,515.00v1.5M650.48,744.40v-2.6M650.48,515.00v2.6M662.89,744.40v-1.5M662.89,515.00v1.5M675.30,744.40v-2.6M675.30,515.00v2.6" stroke="#333" stroke-width="1" fill="none"/>
<line x1="377.50" y1="515.00" x2="377.50" y2="744.20" stroke="#333333" stroke-width="1.3" stroke-linecap="square"/>
<line x1="675.30" y1="515.00" x2="675.30" y2="744.20" stroke="#5c5c5c" stroke-width="1.5" stroke-linecap="square"/>
<line x1="377.50" y1="515.00" x2="675.30" y2="515.00" stroke="#555" stroke-width="1.4" stroke-linecap="square"/>
<line x1="377.50" y1="744.20" x2="675.30" y2="744.20" stroke="#5c5c5c" stroke-width="1.5" stroke-linecap="square"/>
<g clip-path="url(#cpIOA)"><path d="M402.32,715.75 L405.07,720.85 L399.57,720.85 Z" fill="none" stroke="#1f7d47" stroke-width="1.05" stroke-linejoin="miter"/><circle cx="402.32" cy="666.55" r="3.1" fill="none" stroke="#dc2630" stroke-width="1.75"/><path d="M526.40,711.95 L529.15,717.05 L523.65,717.05 Z" fill="none" stroke="#1f7d47" stroke-width="1.05" stroke-linejoin="miter"/><circle cx="526.40" cy="699.85" r="3.1" fill="none" stroke="#dc2630" stroke-width="1.75"/><path d="M650.48,700.30 L653.23,705.40 L647.73,705.40 Z" fill="none" stroke="#1f7d47" stroke-width="1.05" stroke-linejoin="miter"/><circle cx="650.48" cy="690.60" r="3.1" fill="none" stroke="#dc2630" stroke-width="1.75"/></g>
<circle cx="456.40" cy="522.20" r="3.1" fill="none" stroke="#dc2630" stroke-width="1.75"/>
<path d="M532.10,519.45 L534.85,524.55 L529.35,524.55 Z" fill="none" stroke="#1f7d47" stroke-width="1.05" stroke-linejoin="miter"/>
<text x="467.20" y="525.35" class="lg">model A</text>
<text x="540.30" y="525.35" class="lg">model S</text>
<text x="373.90" y="747.50" class="tl" text-anchor="end">-1,2</text>
<text x="373.90" y="709.27" class="tl" text-anchor="end">-0,8</text>
<text x="373.90" y="671.03" class="tl" text-anchor="end">-0,4</text>
<text x="373.90" y="632.80" class="tl" text-anchor="end">0,0</text>
<text x="373.90" y="594.57" class="tl" text-anchor="end">0,4</text>
<text x="373.90" y="556.33" class="tl" text-anchor="end">0,8</text>
<text x="373.90" y="518.10" class="tl" text-anchor="end">1,2</text>
<text x="401.72" y="757.90" class="xl" text-anchor="middle">u1</text>
<text x="525.80" y="757.90" class="xl" text-anchor="middle">u2</text>
<text x="649.88" y="757.90" class="xl" text-anchor="middle">u3</text>
<text transform="translate(352.77,629.55) rotate(-90) scale(1,1.0)" text-anchor="middle" class="yl" style="font-size:8.4px;stroke:#222;stroke-width:0px">IOA</text></g>
<g id="cCOE"><clipPath id="cpCOE"><rect x="196.90" y="774.60" width="301.80" height="231.00"/></clipPath>
<line x1="222.50" y1="774.60" x2="222.50" y2="1005.60" stroke="#e2e2e2" stroke-width="1"/>
<line x1="247.50" y1="774.60" x2="247.50" y2="1005.60" stroke="#e2e2e2" stroke-width="1"/>
<line x1="272.50" y1="774.60" x2="272.50" y2="1005.60" stroke="#e2e2e2" stroke-width="1"/>
<line x1="297.50" y1="774.60" x2="297.50" y2="1005.60" stroke="#e2e2e2" stroke-width="1"/>
<line x1="322.50" y1="774.60" x2="322.50" y2="1005.60" stroke="#e2e2e2" stroke-width="1"/>
<line x1="347.50" y1="774.60" x2="347.50" y2="1005.60" stroke="#e2e2e2" stroke-width="1"/>
<line x1="372.50" y1="774.60" x2="372.50" y2="1005.60" stroke="#e2e2e2" stroke-width="1"/>
<line x1="398.50" y1="774.60" x2="398.50" y2="1005.60" stroke="#e2e2e2" stroke-width="1"/>
<line x1="423.50" y1="774.60" x2="423.50" y2="1005.60" stroke="#e2e2e2" stroke-width="1"/>
<line x1="448.50" y1="774.60" x2="448.50" y2="1005.60" stroke="#e2e2e2" stroke-width="1"/>
<line x1="473.50" y1="774.60" x2="473.50" y2="1005.60" stroke="#e2e2e2" stroke-width="1"/>
<line x1="196.90" y1="979.50" x2="498.70" y2="979.50" stroke="#e2e2e2" stroke-width="1"/>
<line x1="196.90" y1="954.50" x2="498.70" y2="954.50" stroke="#e2e2e2" stroke-width="1"/>
<line x1="196.90" y1="928.50" x2="498.70" y2="928.50" stroke="#e2e2e2" stroke-width="1"/>
<line x1="196.90" y1="902.50" x2="498.70" y2="902.50" stroke="#e2e2e2" stroke-width="1"/>
<line x1="196.90" y1="877.50" x2="498.70" y2="877.50" stroke="#e2e2e2" stroke-width="1"/>
<line x1="196.90" y1="851.50" x2="498.70" y2="851.50" stroke="#e2e2e2" stroke-width="1"/>
<line x1="196.90" y1="825.50" x2="498.70" y2="825.50" stroke="#e2e2e2" stroke-width="1"/>
<line x1="196.90" y1="800.50" x2="498.70" y2="800.50" stroke="#e2e2e2" stroke-width="1"/>
<line x1="196.90" y1="787.50" x2="498.70" y2="787.50" stroke="#585858" stroke-width="1.2" stroke-dasharray="14.0 3.31" stroke-dashoffset="6.80"/>
<path d="M196.90,1005.60h2.6M498.70,1005.60h-2.6M196.90,992.77h1.5M498.70,992.77h-1.5M196.90,979.93h2.6M498.70,979.93h-2.6M196.90,967.10h1.5M498.70,967.10h-1.5M196.90,954.27h2.6M498.70,954.27h-2.6M196.90,941.43h1.5M498.70,941.43h-1.5M196.90,928.60h2.6M498.70,928.60h-2.6M196.90,915.77h1.5M498.70,915.77h-1.5M196.90,902.93h2.6M498.70,902.93h-2.6M196.90,890.10h1.5M498.70,890.10h-1.5M196.90,877.27h2.6M498.70,877.27h-2.6M196.90,864.43h1.5M498.70,864.43h-1.5M196.90,851.60h2.6M498.70,851.60h-2.6M196.90,838.77h1.5M498.70,838.77h-1.5M196.90,825.93h2.6M498.70,825.93h-2.6M196.90,813.10h1.5M498.70,813.10h-1.5M196.90,800.27h2.6M498.70,800.27h-2.6M196.90,787.43h1.5M498.70,787.43h-1.5M196.90,774.60h2.6M498.70,774.60h-2.6M196.90,1005.60v-2.6M196.90,774.60v2.6M209.47,1005.60v-1.5M209.47,774.60v1.5M222.05,1005.60v-2.6M222.05,774.60v2.6M234.62,1005.60v-1.5M234.62,774.60v1.5M247.20,1005.60v-2.6M247.20,774.60v2.6M259.77,1005.60v-1.5M259.77,774.60v1.5M272.35,1005.60v-2.6M272.35,774.60v2.6M284.92,1005.60v-1.5M284.92,774.60v1.5M297.50,1005.60v-2.6M297.50,774.60v2.6M310.07,1005.60v-1.5M310.07,774.60v1.5M322.65,1005.60v-2.6M322.65,774.60v2.6M335.22,1005.60v-1.5M335.22,774.60v1.5M347.80,1005.60v-2.6M347.80,774.60v2.6M360.38,1005.60v-1.5M360.38,774.60v1.5M372.95,1005.60v-2.6M372.95,774.60v2.6M385.52,1005.60v-1.5M385.52,774.60v1.5M398.10,1005.60v-2.6M398.10,774.60v2.6M410.67,1005.60v-1.5M410.67,774.60v1.5M423.25,1005.60v-2.6M423.25,774.60v2.6M435.82,1005.60v-1.5M435.82,774.60v1.5M448.40,1005.60v-2.6M448.40,774.60v2.6M460.97,1005.60v-1.5M460.97,774.60v1.5M473.55,1005.60v-2.6M473.55,774.60v2.6M486.12,1005.60v-1.5M486.12,774.60v1.5M498.70,1005.60v-2.6M498.70,774.60v2.6" stroke="#333" stroke-width="1" fill="none"/>
<line x1="196.90" y1="774.60" x2="196.90" y2="1005.60" stroke="#777" stroke-width="1.7" stroke-linecap="square"/>
<line x1="498.70" y1="774.60" x2="498.70" y2="1005.60" stroke="#777" stroke-width="1.7" stroke-linecap="square"/>
<line x1="196.90" y1="774.60" x2="498.70" y2="774.60" stroke="#777" stroke-width="1.7" stroke-linecap="square"/>
<line x1="196.90" y1="1005.60" x2="498.70" y2="1005.60" stroke="#333333" stroke-width="1.3" stroke-linecap="square"/>
<g clip-path="url(#cpCOE)"><path d="M222.05,977.25 L224.80,982.35 L219.30,982.35 Z" fill="none" stroke="#1f7d47" stroke-width="1.05" stroke-linejoin="miter"/><circle cx="222.05" cy="808.60" r="3.1" fill="none" stroke="#dc2630" stroke-width="1.75"/><path d="M347.80,906.60 L350.55,911.70 L345.05,911.70 Z" fill="none" stroke="#1f7d47" stroke-width="1.05" stroke-linejoin="miter"/><circle cx="347.80" cy="835.20" r="3.1" fill="none" stroke="#dc2630" stroke-width="1.75"/><path d="M473.55,841.70 L476.30,846.80 L470.80,846.80 Z" fill="none" stroke="#1f7d47" stroke-width="1.05" stroke-linejoin="miter"/><circle cx="473.55" cy="823.15" r="3.1" fill="none" stroke="#dc2630" stroke-width="1.75"/></g>
<circle cx="285.60" cy="781.20" r="3.1" fill="none" stroke="#dc2630" stroke-width="1.75"/>
<path d="M365.70,778.45 L368.45,783.55 L362.95,783.55 Z" fill="none" stroke="#1f7d47" stroke-width="1.05" stroke-linejoin="miter"/>
<text x="296.10" y="784.35" class="lg">model A</text>
<text x="374.00" y="784.35" class="lg">model S</text>
<text x="193.30" y="1008.70" class="tl" text-anchor="end">-16</text>
<text x="193.30" y="983.03" class="tl" text-anchor="end">-14</text>
<text x="193.30" y="957.37" class="tl" text-anchor="end">-12</text>
<text x="193.30" y="931.70" class="tl" text-anchor="end">-10</text>
<text x="193.30" y="906.03" class="tl" text-anchor="end">-8</text>
<text x="193.30" y="880.37" class="tl" text-anchor="end">-6</text>
<text x="193.30" y="854.70" class="tl" text-anchor="end">-4</text>
<text x="193.30" y="829.03" class="tl" text-anchor="end">-2</text>
<text x="193.30" y="803.37" class="tl" text-anchor="end">0</text>
<text x="193.30" y="777.70" class="tl" text-anchor="end">2</text>
<text x="221.45" y="1019.10" class="xl" text-anchor="middle">u1</text>
<text x="347.20" y="1019.10" class="xl" text-anchor="middle">u2</text>
<text x="472.95" y="1019.10" class="xl" text-anchor="middle">u3</text>
<text transform="translate(175.12,890.50) rotate(-90) scale(1,1.22)" text-anchor="middle" class="yl" style="font-size:7.1px;stroke:#222;stroke-width:0.35px">COE</text></g>
</svg>
</body></html>
